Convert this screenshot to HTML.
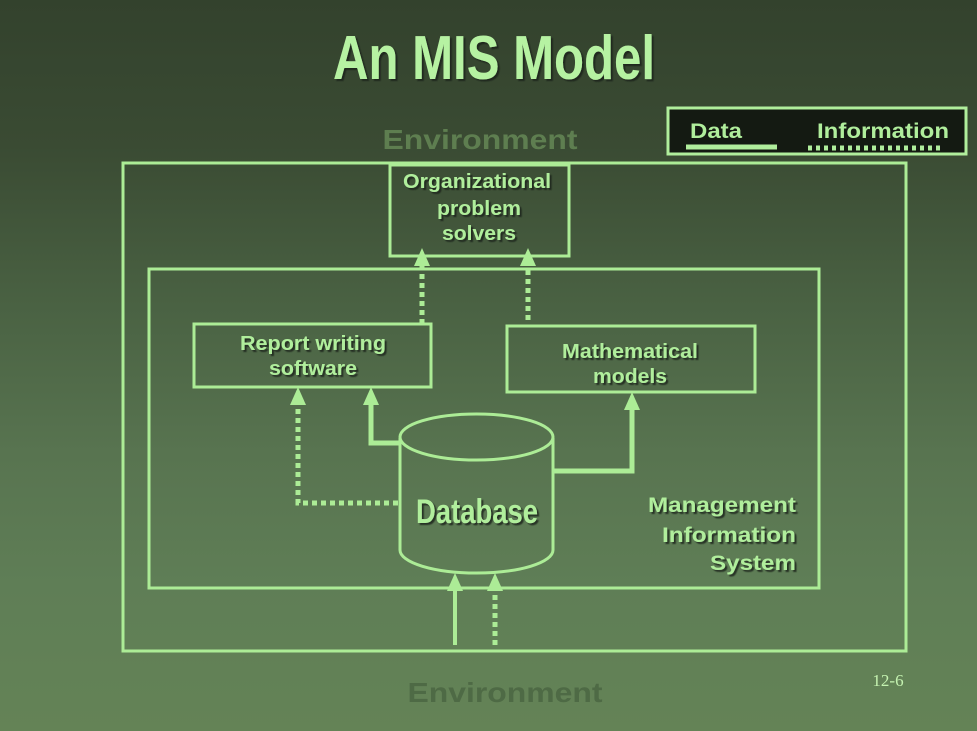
<!DOCTYPE html>
<html><head><meta charset="utf-8"><style>
html,body{margin:0;padding:0}
body{width:977px;height:731px;overflow:hidden;background:linear-gradient(#33422d 0%,#3a4b33 20%,#4a6243 42%,#587450 62%,#5f7e56 80%,#648356 100%)}
svg{display:block}
text{font-family:"Liberation Sans",sans-serif}
</style></head><body>
<svg width="977" height="731" viewBox="0 0 977 731" xmlns="http://www.w3.org/2000/svg">
<defs>
<filter id="sh"><feDropShadow dx="2" dy="2" stdDeviation="0.5" flood-color="#1a2416" flood-opacity="0.8"/></filter>
</defs>
<g filter="url(#sh)">
<text x="494" y="79" text-anchor="middle" font-size="62" font-weight="bold" fill="#b6f2a2" textLength="322" lengthAdjust="spacingAndGlyphs">An MIS Model</text>
</g>
<text x="480" y="149" text-anchor="middle" font-size="28" font-weight="bold" fill="#5e7e50" textLength="195" lengthAdjust="spacingAndGlyphs">Environment</text>
<text x="505" y="702" text-anchor="middle" font-size="28" font-weight="bold" fill="#4e6a45" textLength="195" lengthAdjust="spacingAndGlyphs">Environment</text>

<!-- legend -->
<rect x="668" y="108" width="298" height="46" fill="#141a12" stroke="#b0ee9c" stroke-width="3"/>
<text x="690" y="138" font-size="21" font-weight="bold" fill="#b0ee9c" textLength="52" lengthAdjust="spacingAndGlyphs">Data</text>
<text x="817" y="138" font-size="21" font-weight="bold" fill="#b0ee9c" textLength="132" lengthAdjust="spacingAndGlyphs">Information</text>
<line x1="686" y1="147" x2="777" y2="147" stroke="#b0ee9c" stroke-width="5"/>
<line x1="808" y1="148" x2="944" y2="148" stroke="#b0ee9c" stroke-width="5" stroke-dasharray="4,4"/>

<g fill="none" stroke="#acec96" stroke-width="3">
<rect x="123" y="163" width="783" height="488"/>
<rect x="149" y="269" width="670" height="319"/>
<rect x="390" y="165" width="179" height="91"/>
<rect x="194" y="324" width="237" height="63"/>
<rect x="507" y="326" width="248" height="66"/>
</g>

<!-- cylinder -->
<g stroke="#acec96" stroke-width="3" fill="none">
<path d="M400 438 L400 550 A76.5 23 0 0 0 553 550 L553 438"/>
<ellipse cx="476.5" cy="437" rx="76.5" ry="23"/>
</g>

<g stroke="#acec96" fill="none">
<path d="M400 443 H371 V400" stroke-width="5"/>
<path d="M553 471 H632 V405" stroke-width="5"/>
<line x1="455" y1="645" x2="455" y2="588" stroke-width="4"/>
<path d="M398 503 H298 V404" stroke-width="5" stroke-dasharray="5,4"/>
<line x1="422" y1="324" x2="422" y2="266" stroke-width="5" stroke-dasharray="5,4"/>
<line x1="528" y1="320" x2="528" y2="266" stroke-width="5" stroke-dasharray="5,4"/>
<line x1="495" y1="645" x2="495" y2="588" stroke-width="5" stroke-dasharray="5,4"/>
</g>
<g fill="#acec96">
<polygon points="371,387 363,405 379,405"/>
<polygon points="298,387 290,405 306,405"/>
<polygon points="632,392 624,410 640,410"/>
<polygon points="422,248 414,266 430,266"/>
<polygon points="528,248 520,266 536,266"/>
<polygon points="455,573 447,591 463,591"/>
<polygon points="495,573 487,591 503,591"/>
</g>

<g font-size="20" fill="#b0ee9c" text-anchor="middle" filter="url(#sh)" font-weight="bold">
<text x="477" y="188" textLength="148" lengthAdjust="spacingAndGlyphs" style="font-weight:600">Organizational</text>
<text x="479" y="215" textLength="84" lengthAdjust="spacingAndGlyphs">problem</text>
<text x="479" y="240" textLength="74" lengthAdjust="spacingAndGlyphs">solvers</text>
<text x="313" y="350" textLength="146" lengthAdjust="spacingAndGlyphs">Report writing</text>
<text x="313" y="375" textLength="88" lengthAdjust="spacingAndGlyphs">software</text>
<text x="630" y="358" textLength="136" lengthAdjust="spacingAndGlyphs">Mathematical</text>
<text x="630" y="383" textLength="74" lengthAdjust="spacingAndGlyphs">models</text>
<text x="796" y="512" text-anchor="end" font-size="21" textLength="148" lengthAdjust="spacingAndGlyphs">Management</text>
<text x="796" y="542" text-anchor="end" font-size="21" textLength="134" lengthAdjust="spacingAndGlyphs">Information</text>
<text x="796" y="570" text-anchor="end" font-size="21" textLength="86" lengthAdjust="spacingAndGlyphs">System</text>
<text x="477" y="523" font-size="34" textLength="122" lengthAdjust="spacingAndGlyphs">Database</text>
</g>
<text x="888" y="686" text-anchor="middle" font-size="17" fill="#c4f2b0" style="font-family:'Liberation Serif',serif">12-6</text>
</svg>
</body></html>
